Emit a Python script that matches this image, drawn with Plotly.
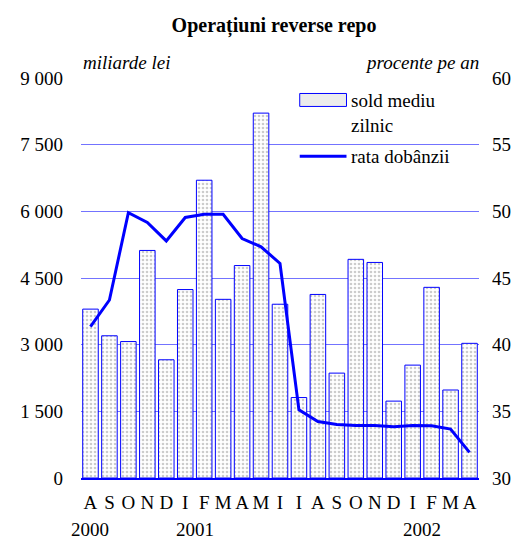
import plotly.graph_objects as go

months = ["A", "S", "O", "N", "D", "I", "F", "M", "A", "M", "I",
          "I", "A", "S", "O", "N", "D", "I", "F", "M", "A"]
years = ["2000", "2001", "2002"]
year_pos = [0, 5.5, 17.5]

sold_mediu = [3800, 3200, 3070, 5120, 2660, 4240, 6700, 4020, 4780, 8210, 3910,
              1810, 4130, 2360, 4920, 4850, 1730, 2540, 4290, 1980, 3030]
rata = [41.35, 43.35, 49.9, 49.16, 47.78, 49.54, 49.78, 49.78, 47.96, 47.34, 46.09,
        35.11, 34.24, 34.01, 33.94, 33.94, 33.84, 33.94, 33.92, 33.67, 31.92]

left_ticks = [0, 1500, 3000, 4500, 6000, 7500, 9000]
left_text = ["0", "1 500", "3 000", "4 500", "6 000", "7 500", "9 000"]
right_ticks = [30, 35, 40, 45, 50, 55, 60]

x = list(range(len(months)))
FONT = "Liberation Serif"
BLUE = "#0000ff"

# page offset of the plot div (default body margin)
OFF = 8
W, H = 523 - OFF, 540 - OFF
L, R, T, B = 76.5, 485.0, 77.5, 478.3  # plot area in page pixels


def px_x(p):
    return (p - L) / (R - L)


def px_y(p):
    return (B - p) / (B - T)


fig = go.Figure()
fig.add_trace(go.Bar(
    x=x, y=sold_mediu, name="sold mediu zilnic",
    marker=dict(color="white",
                line=dict(color=BLUE, width=1),
                pattern=dict(shape=".", fgcolor="#9a9a9a", bgcolor="white",
                             size=4, solidity=0.35)),
    showlegend=False,
))
fig.add_trace(go.Scatter(
    x=x, y=rata, yaxis="y2", mode="lines", name="rata dobânzii",
    line=dict(color=BLUE, width=3), showlegend=False,
))

shapes = [
    dict(type="rect", xref="paper", yref="paper", layer="between",
         x0=px_x(285), x1=px_x(471), y0=px_y(170), y1=px_y(86),
         fillcolor="white", line=dict(width=0)),
    dict(type="rect", xref="paper", yref="paper",
         x0=px_x(301), x1=px_x(349), y0=px_y(106), y1=px_y(93),
         fillcolor="#ececec", line=dict(color=BLUE, width=1)),
    dict(type="line", xref="paper", yref="paper",
         x0=px_x(301), x1=px_x(349), y0=px_y(156), y1=px_y(156),
         line=dict(color=BLUE, width=3)),
]

annotations = [
    dict(text="sold mediu<br>zilnic", xref="paper", yref="paper",
         x=px_x(352), y=px_y(88), xanchor="left", yanchor="top", align="left",
         showarrow=False, font=dict(family=FONT, size=19, color="black")),
    dict(text="rata dobânzii", xref="paper", yref="paper",
         x=px_x(352), y=px_y(156), xanchor="left", yanchor="middle",
         showarrow=False, font=dict(family=FONT, size=19, color="black")),
    dict(text="<i>miliarde lei</i>", xref="paper", yref="paper",
         x=px_x(76), y=px_y(62), xanchor="left", yanchor="middle",
         showarrow=False, font=dict(family=FONT, size=19, color="black")),
    dict(text="<i>procente pe an</i>", xref="paper", yref="paper",
         x=px_x(487), y=px_y(62), xanchor="right", yanchor="middle",
         showarrow=False, font=dict(family=FONT, size=19, color="black")),
]
for yr, pos in zip(years, year_pos):
    annotations.append(dict(text=yr, xref="x", yref="paper", x=pos, y=px_y(530),
                            xanchor="center", yanchor="middle", showarrow=False,
                            font=dict(family=FONT, size=19, color="black")))

fig.update_layout(
    width=W, height=H,
    margin=dict(l=L - OFF, r=523 - R, t=T - OFF, b=540 - B),
    paper_bgcolor="white", plot_bgcolor="white",
    font=dict(family=FONT, size=19, color="black"),
    title=dict(text="<b>Operațiuni reverse repo</b>", x=(274 - OFF) / W, xref="container",
               xanchor="center", y=1 - (25 - OFF) / H, yanchor="middle",
               font=dict(family=FONT, size=20, color="black")),
    bargap=0.18,
    xaxis=dict(range=[-0.5, len(months) - 0.5], tickvals=x, ticktext=months,
               showgrid=False, showline=True, linecolor=BLUE, linewidth=1.5,
               ticks="", ticklabelstandoff=6, zeroline=False,
               tickfont=dict(family=FONT, size=19)),
    yaxis=dict(range=[0, 9000], tickvals=left_ticks, ticktext=left_text,
               showgrid=True, gridcolor="#7373ff", gridwidth=1,
               zeroline=False, showline=False, ticks="",
               ticklabelstandoff=17, tickfont=dict(family=FONT, size=19)),
    yaxis2=dict(range=[30, 60], tickvals=right_ticks, overlaying="y", side="right",
                showgrid=False, zeroline=False, showline=False, ticks="",
                ticklabelstandoff=12, tickfont=dict(family=FONT, size=19)),
    shapes=shapes,
    annotations=annotations,
)

fig.write_html("out.html")
